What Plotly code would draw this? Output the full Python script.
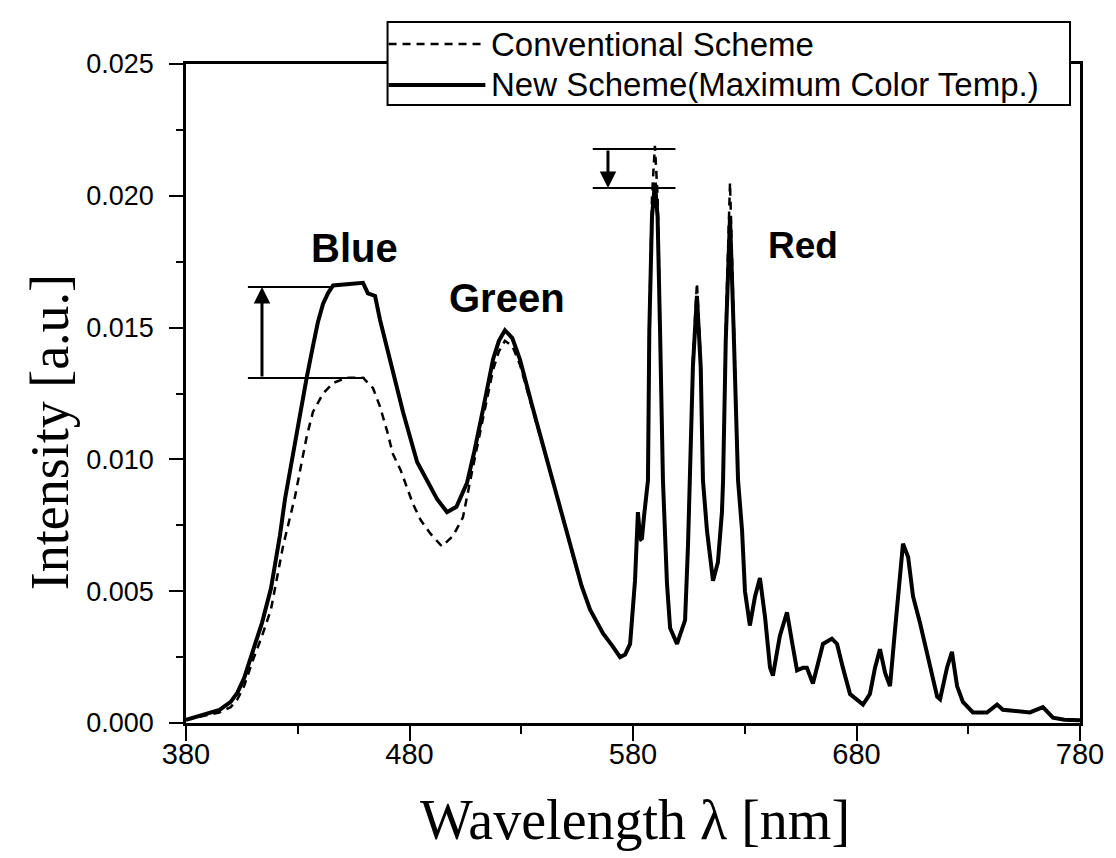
import plotly.graph_objects as go

# ---- New Scheme (Maximum Color Temp.) : solid ----
wl_new = [380, 385, 390, 395, 400, 403, 406, 410, 414, 418, 422, 424.3, 428, 431, 434, 436.8, 439, 441.3,
          443.5, 445.8, 452, 456, 459.2, 461.4, 464.6, 466.8, 471.3, 477.1, 483.4, 487.8, 492.3, 496.8,
          501, 505.7, 509, 512.9, 517.4, 520, 522.7, 526, 529.4, 535, 541.5, 547, 553.2, 557, 560.8,
          566.6, 571, 574.2, 576.5, 578.7, 580.9, 582.2, 583, 584, 585, 586.7, 587.3, 588.5, 589.8,
          591, 592.1, 593.4, 595.2, 596.6, 599.7, 603.3, 604.6, 605.5, 606.8, 608.6, 610.3, 611.3,
          613.1, 615.8, 618, 619.8, 620.3, 621.5, 623.4, 625, 627, 628.8, 630.1, 632.3, 634.6, 636.8,
          639.1, 641.3, 642.6, 645.7, 648.9, 651.1, 653.4, 656.1, 657.8, 660.5, 663.7, 665, 669,
          671.3, 673.9, 677.1, 682.9, 686, 688.3, 690.5, 692.8, 695, 697.2, 699.5, 700.8, 703.1,
          705.3, 708.4, 712, 716.1, 717.4, 720.5, 722.7, 725, 727.6, 732.1, 738.4, 742.9, 745.5,
          751, 757.6, 763.4, 767.9, 773, 780]
it_new = [0.00012, 0.00025, 0.00036, 0.0005, 0.0008, 0.00115, 0.0017, 0.0027, 0.0038, 0.0051, 0.0071,
          0.0085, 0.0103, 0.0118, 0.0131, 0.0143, 0.0152, 0.0159, 0.0163, 0.0166, 0.01665, 0.0167,
          0.0167, 0.0163, 0.0162, 0.0153, 0.0137, 0.0118, 0.0099, 0.0092, 0.0085, 0.0080, 0.0082,
          0.0091, 0.0103, 0.0119, 0.0138, 0.0145, 0.0149, 0.0146, 0.0138, 0.0120, 0.0100, 0.0083,
          0.0063, 0.0052, 0.0043, 0.0034, 0.0029, 0.0025, 0.0026, 0.0030, 0.0054, 0.0080, 0.0072,
          0.0070, 0.0079, 0.0092, 0.0149, 0.0192, 0.0205, 0.0192, 0.0149, 0.0092, 0.0053, 0.0036,
          0.0030, 0.0039, 0.0067, 0.0092, 0.0135, 0.0162, 0.0135, 0.0092, 0.0073, 0.0054, 0.0061,
          0.0080, 0.0092, 0.0145, 0.0192, 0.0150, 0.0092, 0.0073, 0.0050, 0.0037, 0.0048, 0.0055,
          0.0040, 0.0021, 0.0018, 0.0033, 0.0042, 0.0031, 0.0020, 0.0021, 0.0021, 0.0015, 0.0025,
          0.0030, 0.0032, 0.0030, 0.0021, 0.0011, 0.0007, 0.0011, 0.0021, 0.0028, 0.0019, 0.0014,
          0.0035, 0.0058, 0.0068, 0.0063, 0.0048, 0.0038, 0.0025, 0.0010, 0.0009, 0.0021, 0.0027,
          0.0014, 0.0008, 0.0004, 0.0004, 0.0007, 0.0005, 0.00045, 0.0004, 0.0006, 0.0002, 0.00012,
          0.0001]

# ---- Conventional Scheme : dashed ----
wl_conv = [380, 385, 390, 395, 400, 403, 406, 410, 414, 418, 423.4, 428.8, 432, 434.1, 436.8, 441.3,
           445.8, 452, 459.2, 463.7, 466.8, 469.9, 472.6, 476, 481.6, 485, 489.2, 494.5, 499.5, 503.9,
           507.9, 510.2, 513, 517.4, 520, 522.7, 526, 529.4, 535, 541.5, 547, 553.2, 557, 560.8,
           566.6, 571, 574.2, 576.5, 578.7, 580.9, 582.2, 583, 584, 585, 586.7, 587.3, 588.5, 589.8,
           591, 592.1, 593.4, 595.2, 596.6, 599.7, 603.3, 604.6, 605.5, 606.8, 608.6, 610.3, 611.3,
           613.1, 615.8, 618, 619.8, 620.3, 621.5, 623.4, 625, 627, 628.8, 630.1, 632.3, 634.6, 636.8,
           639.1, 641.3, 642.6, 645.7, 648.9, 651.1, 653.4, 656.1, 657.8, 660.5, 663.7, 665, 669,
           671.3, 673.9, 677.1, 682.9, 686, 688.3, 690.5, 692.8, 695, 697.2, 699.5, 700.8, 703.1,
           705.3, 708.4, 712, 716.1, 717.4, 720.5, 722.7, 725, 727.6, 732.1, 738.4, 742.9, 745.5,
           751, 757.6, 763.4, 767.9, 773, 780]
it_conv = [0.00012, 0.00022, 0.0003, 0.0004, 0.0006, 0.0009, 0.0014, 0.0024, 0.0033, 0.0043, 0.0067,
           0.0086, 0.0100, 0.0109, 0.0118, 0.0125, 0.0129, 0.0131, 0.0131, 0.0127, 0.0120, 0.0111,
           0.0102, 0.0096, 0.0083, 0.0077, 0.0072, 0.0067, 0.0071, 0.0078, 0.0095, 0.0104, 0.0116,
           0.0134, 0.0141, 0.0145, 0.0143, 0.0136, 0.0119, 0.0099, 0.0083, 0.0063, 0.0052, 0.0043,
           0.0034, 0.0029, 0.0025, 0.0026, 0.0030, 0.0054, 0.0078, 0.0070, 0.0068, 0.0079, 0.0092,
           0.0152, 0.0200, 0.0219, 0.0200, 0.0152, 0.0092, 0.0053, 0.0036, 0.0030, 0.0039, 0.0067,
           0.0092, 0.0138, 0.0167, 0.0138, 0.0092, 0.0073, 0.0054, 0.0061, 0.0080, 0.0092, 0.0150,
           0.0205, 0.0155, 0.0092, 0.0073, 0.0050, 0.0037, 0.0048, 0.0055, 0.0040, 0.0021, 0.0018,
           0.0033, 0.0042, 0.0031, 0.0020, 0.0021, 0.0021, 0.0015, 0.0025, 0.0030, 0.0032, 0.0030,
           0.0021, 0.0011, 0.0007, 0.0011, 0.0021, 0.0028, 0.0019, 0.0014, 0.0035, 0.0058, 0.0068,
           0.0063, 0.0048, 0.0038, 0.0025, 0.0010, 0.0009, 0.0021, 0.0027, 0.0014, 0.0008, 0.0004,
           0.0004, 0.0007, 0.0005, 0.00045, 0.0004, 0.0006, 0.0002, 0.00012, 0.0001]

series_names = ["Conventional Scheme", "New Scheme(Maximum Color Temp.)"]
x_ticks = [380, 480, 580, 680, 780]
y_ticks = [0.000, 0.005, 0.010, 0.015, 0.020, 0.025]
y_tick_text = ["0.000", "0.005", "0.010", "0.015", "0.020", "0.025"]

# annotation levels
blue_hi, blue_lo = 0.01654, 0.01309
red_hi, red_lo = 0.02178, 0.0203

SANS = "Arial, Liberation Sans, Helvetica, sans-serif"
SERIF = "Times New Roman, Liberation Serif, serif"
DASH = "8px,6px"

# plot-area geometry in pixels (for the paper-anchored legend box)
L, R, T, B = 186, 1082, 64, 723
def px(xp):
    return (xp - L) / (R - L)
def py(yp):
    return (B - yp) / (B - T)

fig = go.Figure()
fig.add_trace(go.Scatter(x=wl_conv, y=it_conv, mode="lines", name=series_names[0],
                         line=dict(color="black", width=2.5, dash=DASH), showlegend=False))
fig.add_trace(go.Scatter(x=wl_new, y=it_new, mode="lines", name=series_names[1],
                         line=dict(color="black", width=4), showlegend=False))

shapes = []
for (x0, x1, yv) in [(407.7, 446, blue_hi), (407.7, 460, blue_lo), (562, 599, red_hi), (562, 599, red_lo)]:
    shapes.append(dict(type="line", xref="x", yref="y", x0=x0, x1=x1, y0=yv, y1=yv,
                       line=dict(color="black", width=2)))

# legend box (drawn as a framed box over the plot frame, like the original)
shapes.append(dict(type="rect", xref="paper", yref="paper", x0=px(388), x1=px(1072),
                   y0=py(105), y1=py(22), fillcolor="white", line=dict(color="black", width=2),
                   layer="above"))
shapes.append(dict(type="line", xref="paper", yref="paper", x0=px(389), x1=px(486),
                   y0=py(44), y1=py(44), line=dict(color="black", width=2.5, dash=DASH),
                   layer="above"))
shapes.append(dict(type="line", xref="paper", yref="paper", x0=px(389), x1=px(486),
                   y0=py(85), y1=py(85), line=dict(color="black", width=4), layer="above"))

annotations = [
    dict(x=414, y=blue_hi, ax=414, ay=blue_lo, xref="x", yref="y", axref="x", ayref="y",
         text="", showarrow=True, arrowhead=2, arrowsize=1.1, arrowwidth=3, arrowcolor="black"),
    dict(x=568.8, y=red_lo, ax=568.8, ay=red_hi, xref="x", yref="y", axref="x", ayref="y",
         text="", showarrow=True, arrowhead=2, arrowsize=1.1, arrowwidth=3, arrowcolor="black"),
    dict(x=455.6, y=0.01802, xref="x", yref="y", text="<b>Blue</b>", showarrow=False,
         font=dict(family=SANS, size=40, color="black")),
    dict(x=523.6, y=0.01612, xref="x", yref="y", text="<b>Green</b>", showarrow=False,
         font=dict(family=SANS, size=40, color="black")),
    dict(x=656, y=0.01813, xref="x", yref="y", text="<b>Red</b>", showarrow=False,
         font=dict(family=SANS, size=37, color="black")),
    dict(x=px(490), y=py(44), xref="paper", yref="paper", text=series_names[0], showarrow=False,
         xanchor="left", yanchor="middle", font=dict(family=SANS, size=33, color="black")),
    dict(x=px(490), y=py(85), xref="paper", yref="paper", text=series_names[1], showarrow=False,
         xanchor="left", yanchor="middle", font=dict(family=SANS, size=33, color="black")),
    dict(x=px(50), y=py(432), xref="paper", yref="paper", text="Intensity [a.u.]", textangle=-90,
         xanchor="center", yanchor="middle",
         showarrow=False, font=dict(family=SERIF, size=54, color="black")),
    dict(x=px(636), y=py(820), xref="paper", yref="paper", text="Wavelength λ [nm]",
         xanchor="center", yanchor="middle",
         showarrow=False, font=dict(family=SERIF, size=56, color="black")),
]

fig.update_layout(
    width=1116, height=858,
    margin=dict(l=L, r=1116 - R, t=T, b=858 - B),
    paper_bgcolor="white", plot_bgcolor="white",
    showlegend=False,
    shapes=shapes,
    annotations=annotations,
)
fig.update_xaxes(range=[380, 780], tickvals=x_ticks, ticks="outside", ticklen=15, tickwidth=2,
                 tickcolor="black", showline=True, linecolor="black", linewidth=2.5, mirror=True,
                 showgrid=False, zeroline=False, ticklabelstandoff=-12,
                 tickfont=dict(family=SANS, size=29, color="black"),
                 minor=dict(dtick=50, tick0=380, ticks="outside", ticklen=8, tickwidth=2,
                            tickcolor="black", showgrid=False))
fig.update_yaxes(range=[0, 0.025], tickvals=y_ticks, ticktext=y_tick_text, ticks="outside",
                 ticklen=14, tickwidth=2, tickcolor="black", showline=True, linecolor="black",
                 linewidth=2.5, mirror=True, showgrid=False, zeroline=False,
                 tickfont=dict(family=SANS, size=27, color="black"), ticklabelstandoff=10,
                 minor=dict(dtick=0.0025, tick0=0, ticks="outside", ticklen=7, tickwidth=2,
                            tickcolor="black", showgrid=False))

fig.write_html("out.html")
